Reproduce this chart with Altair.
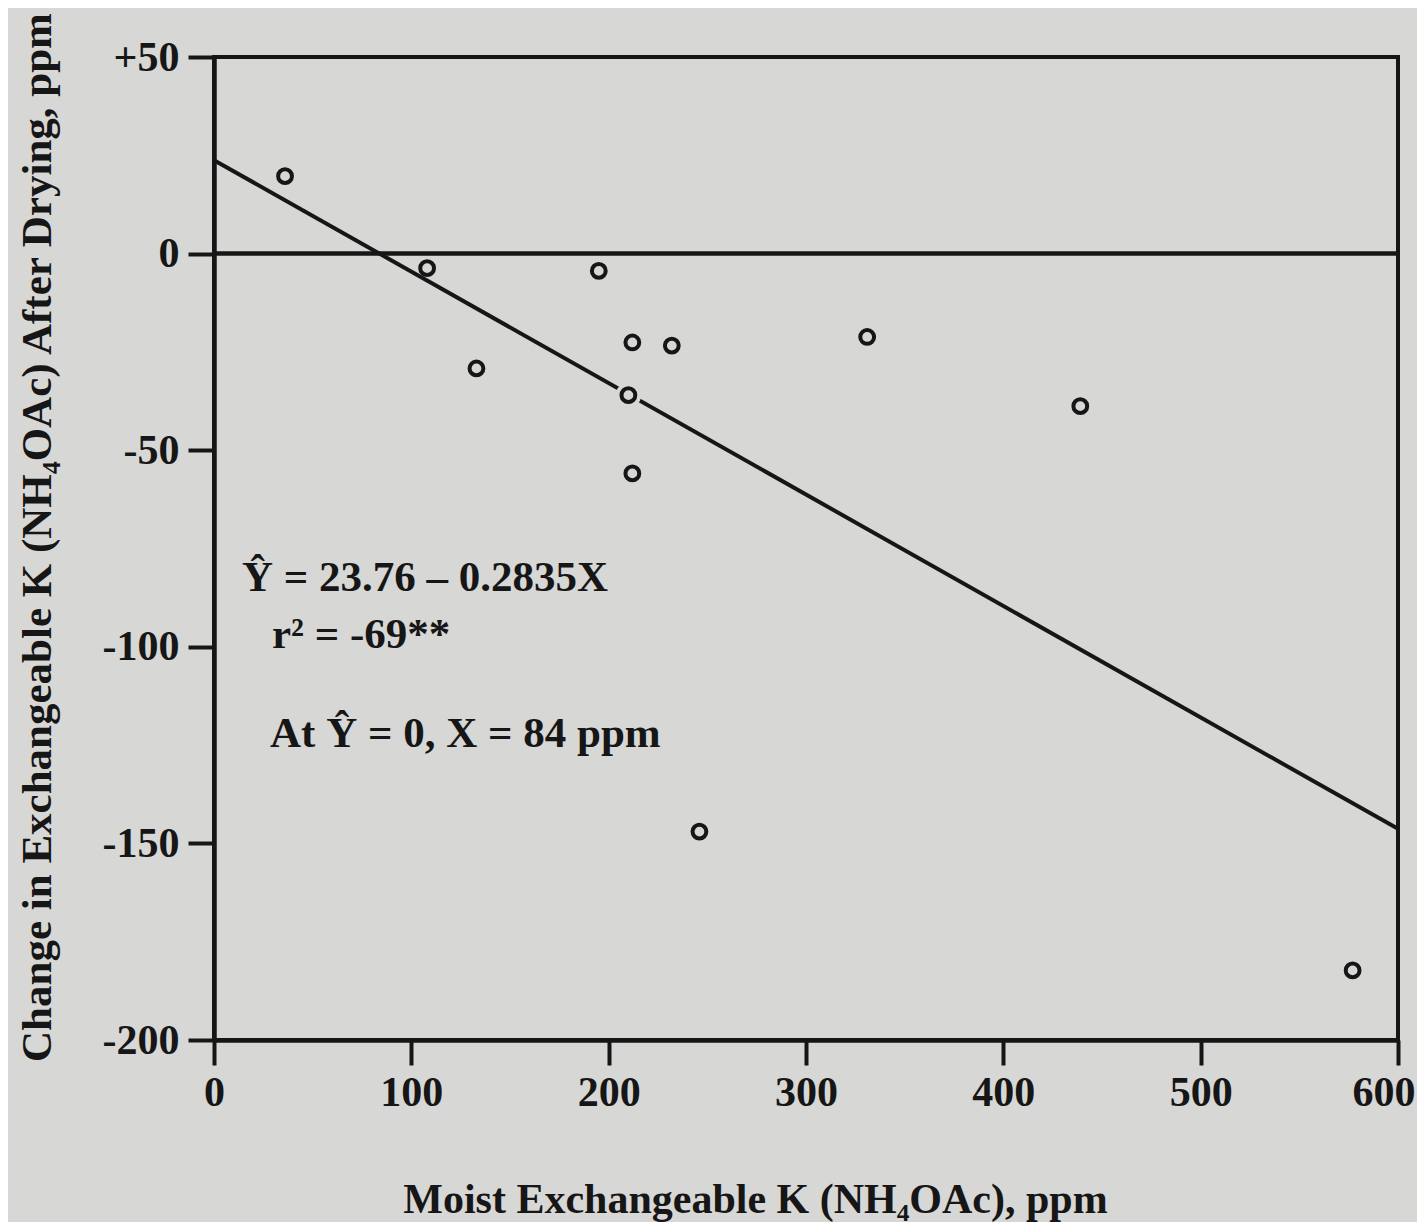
import altair as alt
import pandas as pd

# ---- data ----
x_vals = [36, 108, 133, 195, 212, 232, 210, 212, 331, 439, 246, 577]
y_vals = [19.7, -3.7, -29.2, -4.4, -22.6, -23.4, -36.0, -55.9, -21.2, -38.8, -147.0, -182.3]

fit_x = [0, 600]
fit_y = [23.76, -146.3]

x_ticks = [0, 100, 200, 300, 400, 500, 600]
y_ticks = [-200, -150, -100, -50, 0, 50]

ann_text = ["Ŷ = 23.76 – 0.2835X", "r² = -69**", "At Ŷ = 0, X = 84 ppm"]
ann_x = [14.2, 29.4, 28.4]
ann_y = [-85.8, -100.3, -125.5]

zero_line = [0]

x_title = "Moist Exchangeable K (NH₄OAc), ppm"
y_title = "Change in Exchangeable K (NH₄OAc) After Drying, ppm"

# ---- styling ----
INK = "#161616"
BG = "#d7d7d5"
FONT = "Liberation Serif"

pts = pd.DataFrame({"x": x_vals, "y": y_vals})
fit = pd.DataFrame({"x": fit_x, "y": fit_y})
ann = pd.DataFrame({"x": ann_x, "y": ann_y, "t": ann_text})
zero = pd.DataFrame({"y": zero_line})

x_axis = alt.Axis(
    values=x_ticks, grid=False, format="d",
    domainColor=INK, domainWidth=4.5, tickColor=INK, tickWidth=4, tickSize=25,
    labelFont=FONT, labelFontWeight="bold", labelFontSize=42, labelColor=INK,
    labelPadding=7, labelFlush=False,
    labelAlign=alt.condition("datum.value == 600", alt.value("right"), alt.value("center")),
    labelOffset=alt.condition("datum.value == 600", alt.value(17), alt.value(0)),
    title=x_title, titleFont=FONT, titleFontWeight="bold", titleFontSize=42,
    titleColor=INK, titleX=541, titleY=172, titleAlign="center",
    titleBaseline="alphabetic", titleAnchor="start",
)
y_axis = alt.Axis(
    values=y_ticks, grid=False,
    labelExpr="datum.value > 0 ? '+' + datum.value : '' + datum.value",
    domainColor=INK, domainWidth=4.5, tickColor=INK, tickWidth=4, tickSize=26,
    labelFont=FONT, labelFontWeight="bold", labelFontSize=42, labelColor=INK,
    labelPadding=9, labelBaseline="middle", labelFlush=False,
    title=y_title, titleFont=FONT, titleFontWeight="bold", titleFontSize=43,
    titleColor=INK, titleAngle=270, titleX=-164, titleY=480,
    titleAlign="center", titleBaseline="alphabetic", titleAnchor="start",
)

X = alt.X("x:Q", scale=alt.Scale(domain=[0, 600], nice=False, zero=False), axis=x_axis)
Y = alt.Y("y:Q", scale=alt.Scale(domain=[-200, 50], nice=False, zero=False), axis=y_axis)

zero_rule = alt.Chart(zero).mark_rule(color=INK, strokeWidth=4.5).encode(y=Y)

fit_line = alt.Chart(fit).mark_line(color=INK, strokeWidth=4).encode(x=X, y=Y)

halo = (
    alt.Chart(pts)
    .transform_filter("abs(datum.y - (23.76 - 0.2835 * datum.x)) < 3")
    .mark_point(shape="circle", filled=True, fill=BG, strokeWidth=0, size=650, opacity=1)
    .encode(x=X, y=Y)
)

points = alt.Chart(pts).mark_point(
    shape="circle", filled=False, color=INK, strokeWidth=4, size=190, opacity=1
).encode(x=X, y=Y)

labels = alt.Chart(ann).mark_text(
    align="left", baseline="alphabetic", font=FONT, fontWeight="bold",
    fontSize=43, color=INK,
).encode(x=X, y=Y, text="t:N")

chart = (
    alt.layer(zero_rule, fit_line, halo, points, labels)
    .properties(
        width=1184, height=983,
        autosize=alt.AutoSizeParams(type="none"),
        padding={"left": 206, "top": 49, "right": 19, "bottom": 182},
        background=BG,
    )
    .configure_view(stroke=INK, strokeWidth=4)
)

chart.save("out.html", embed_options={"renderer": "svg", "actions": False})
